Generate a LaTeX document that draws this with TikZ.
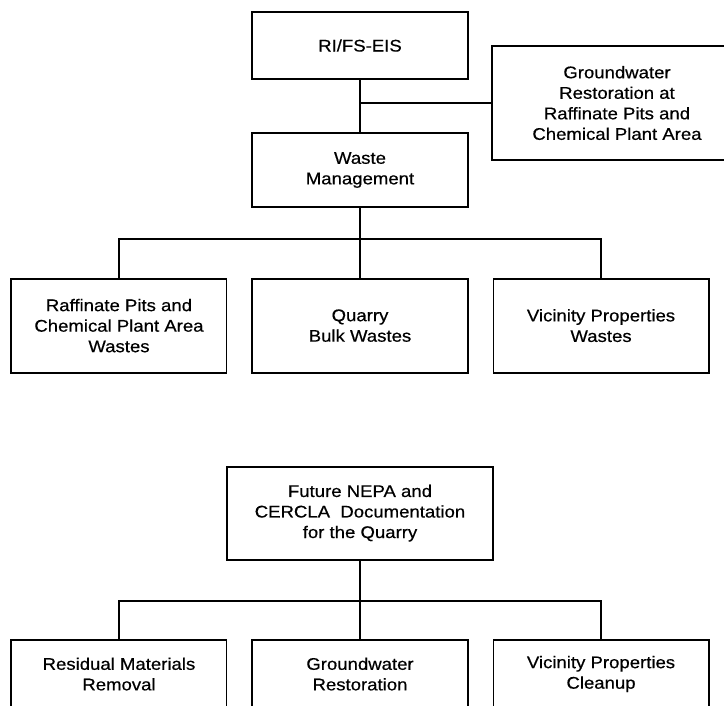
\documentclass[tikz,border=0pt]{standalone}
\usepackage{fontspec}
\setmainfont{Liberation Sans}[FakeStretch=1.1,FakeBold=0.5]
\usetikzlibrary{positioning}

\tikzset{
  box/.style = {draw, rectangle, align=center, inner sep=2pt,
    minimum width=5.375cm, minimum height=2.35cm},
}

\begin{document}
\begin{tikzpicture}[
			x = 0.025cm, y = -0.025cm, % picture measured in pixels
			line width = 1.4pt, % line style
			font=\fontsize{12}{14.6}\selectfont
			]
			
			\useasboundingbox (0,0) rectangle (724,705);
			
			% upper chart
			\node[box,minimum height=1.675cm] (rifs) at (360,45.5) {RI/FS-EIS};
			\node[box,minimum width=6.25cm,minimum height=2.85cm] (gwra) at (617,103) {Groundwater\\Restoration at\\Raffinate Pits and\\Chemical Plant Area};
			\node[box,minimum height=1.85cm] (waste) [below=1.3cm of rifs] {Waste\\Management};
			\node[box] (quarry) [below=1.74cm of waste] {Quarry\\Bulk Wastes};
			\node[box] (raff) [left=0.6cm of quarry] {Raffinate Pits and\\Chemical Plant Area\\Wastes};
			\node[box] (vicw) [right=0.6cm of quarry] {Vicinity Properties\\Wastes};
			
			% lower chart
			\node[box,minimum width=6.65cm,minimum height=2.325cm] (nepa) [below=2.3cm of quarry] {Future NEPA and\\CERCLA~~Documentation\\for the Quarry};
			\node[box,minimum height=1.72cm] (gwrest) [below=1.95cm of nepa] {Groundwater\\Restoration};
			\node[box,minimum height=1.72cm] (resid) [left=0.6cm of gwrest] {Residual Materials\\Removal};
			\node[box,minimum height=1.72cm] (vicc) [right=0.6cm of gwrest] {Vicinity Properties\\Cleanup};
			
			\coordinate (gwjoin) at (rifs.center |- gwra.west);
			\coordinate (wbus) at (waste.center |- 0,239);
			\coordinate (nbus) at (nepa.center |- 0,601);
			
			\draw (rifs) -- (waste);
			\draw (gwjoin) -- (gwra.west);
			\draw (waste) -- (quarry);
			\draw (raff.north) |- (wbus) -| (vicw.north);
			\draw (nepa) -- (gwrest);
			\draw (resid.north) |- (nbus) -| (vicc.north);
			
		\end{tikzpicture}
\end{document}
